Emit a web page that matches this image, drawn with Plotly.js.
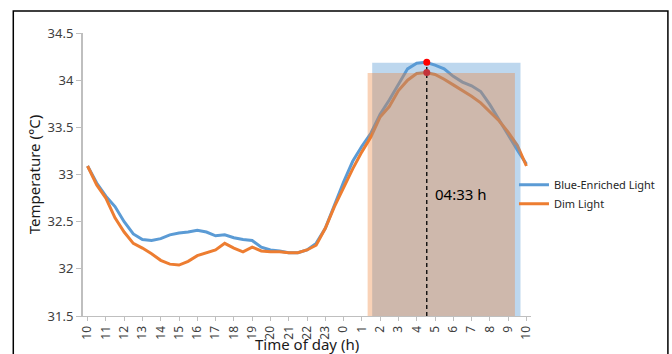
<!DOCTYPE html>
<html>
<head>
<meta charset="utf-8">
<script src="https://cdn.plot.ly/plotly-3.0.1.min.js"></script>
<style>html,body{margin:0;padding:0;background:#fff;}#chart{width:672px;height:354px;}</style>
</head>
<body>
<div id="chart"></div>
<script>
// Half-hour samples from 10:00 to 10:00 next day
const timeLabels = ['10','11','12','13','14','15','16','17','18','19','20','21','22','23','0','1','2','3','4','5','6','7','8','9','10'];
const blueEnriched = [33.09,32.91,32.77,32.66,32.50,32.37,32.31,32.30,32.32,32.36,32.38,32.39,32.41,
  32.39,32.35,32.36,32.33,32.31,32.30,32.23,32.20,32.19,32.17,32.17,32.20,32.27,32.43,32.68,32.92,
  33.14,33.30,33.44,33.64,33.79,33.96,34.12,34.18,34.19,34.16,34.12,34.04,33.98,33.94,33.88,33.74,
  33.58,33.41,33.26,33.11];
const dimLight = [33.09,32.89,32.75,32.54,32.39,32.27,32.22,32.16,32.09,32.05,32.04,32.08,32.14,
  32.17,32.20,32.27,32.22,32.18,32.23,32.19,32.18,32.18,32.17,32.17,32.20,32.25,32.43,32.66,32.86,
  33.06,33.24,33.40,33.61,33.72,33.89,34.00,34.07,34.08,34.06,34.01,33.95,33.89,33.83,33.76,33.67,
  33.57,33.45,33.31,33.09];
const seriesNames = ['Blue-Enriched Light', 'Dim Light'];
const xTitle = 'Time of day (h)';
const yTitle = 'Temperature (°C)';
const peakTime = 37.1;            // 04:33 h, in half-hour index units
const peakLabel = '04:33 h';
const peakValues = [34.19, 34.08];
const bandStart = [31.13, 30.63];
const bandEnd = [47.35, 46.74];
const bandTop = [34.185, 34.075];

const idx = blueEnriched.map((_, i) => i);
const tickVals = timeLabels.map((_, i) => i * 2);

const FONT = 'Noto Sans, Open Sans, sans-serif';
const BLUE = '#5b9bd5', ORANGE = '#ed7d31';

const traces = [
  {x: idx, y: blueEnriched, name: seriesNames[0], type: 'scatter', mode: 'lines',
   line: {color: BLUE, width: 3}},
  {x: idx, y: dimLight, name: seriesNames[1], type: 'scatter', mode: 'lines',
   line: {color: ORANGE, width: 3}}
];

const shapes = [
  // outer chart border
  {type: 'rect', xref: 'paper', yref: 'paper', x0: -0.1556, x1: 1.3056, y0: -0.3, y1: 1.0777,
   line: {color: '#000', width: 1.5}, fillcolor: 'rgba(0,0,0,0)', layer: 'above'},
  // bands
  {type: 'rect', xref: 'x', yref: 'y', x0: bandStart[0], x1: bandEnd[0], y0: 31.5, y1: bandTop[0],
   fillcolor: 'rgba(91,155,213,0.4)', line: {width: 0}, layer: 'above'},
  {type: 'rect', xref: 'x', yref: 'y', x0: bandStart[1], x1: bandEnd[1], y0: 31.5, y1: bandTop[1],
   fillcolor: 'rgba(237,125,49,0.35)', line: {width: 0}, layer: 'above'},
  // dashed marker line
  {type: 'line', xref: 'x', yref: 'y', x0: peakTime, x1: peakTime, y0: 31.5, y1: peakValues[0],
   line: {color: '#000', width: 1.3, dash: '4px,3px'}, layer: 'above'},
  // peak dots
  {type: 'circle', xref: 'x', yref: 'y', xsizemode: 'pixel', ysizemode: 'pixel',
   xanchor: peakTime, yanchor: peakValues[0], x0: -3.5, x1: 3.5, y0: -3.5, y1: 3.5,
   fillcolor: '#ff0000', line: {width: 0}, layer: 'above'},
  {type: 'circle', xref: 'x', yref: 'y', xsizemode: 'pixel', ysizemode: 'pixel',
   xanchor: peakTime, yanchor: peakValues[1], x0: -3.5, x1: 3.5, y0: -3.5, y1: 3.5,
   fillcolor: '#c4333b', line: {width: 0}, layer: 'above'}
];

const layout = {
  width: 672, height: 354,
  margin: {l: 83, r: 139, t: 33, b: 38, pad: 0},
  paper_bgcolor: '#fff', plot_bgcolor: '#fff',
  font: {family: FONT, color: '#404040', size: 12},
  showlegend: true,
  legend: {x: 0.962, xanchor: 'left', y: 0.515, yanchor: 'top', bgcolor: 'rgba(0,0,0,0)',
           font: {family: FONT, size: 11, color: '#262626'}, tracegroupgap: 0, itemwidth: 30},
  xaxis: {
    range: [-0.5, 48.5], tickmode: 'array', tickvals: tickVals, ticktext: timeLabels,
    tickangle: -90, ticks: 'outside', ticklen: 4, tickcolor: '#bfbfbf', tickwidth: 1,
    showline: true, linecolor: '#bfbfbf', linewidth: 1.2, showgrid: false, zeroline: false,
    tickfont: {family: FONT, size: 12, color: '#404040'}
  },
  yaxis: {
    range: [31.5, 34.5], dtick: 0.5, tick0: 31.5, ticks: 'outside', ticklen: 5,
    tickcolor: '#bfbfbf', tickwidth: 1, showline: true, linecolor: '#bfbfbf', linewidth: 2,
    showgrid: false, zeroline: false,
    tickfont: {family: FONT, size: 13, color: '#404040'},
    title: {text: yTitle, font: {family: FONT, size: 15, color: '#1a1a1a'}, standoff: 3}
  },
  shapes: shapes,
  annotations: [
    {x: peakTime, y: 32.79, xref: 'x', yref: 'y', text: peakLabel, showarrow: false,
     xanchor: 'left', yanchor: 'middle', xshift: 6,
     font: {family: FONT, size: 15, color: '#000'}},
    // x-axis title, placed just above the bottom edge
    {x: 0.5, y: 0, yshift: -17, xref: 'paper', yref: 'paper', text: xTitle, showarrow: false,
     xanchor: 'center', yanchor: 'top', borderpad: 0, font: {family: FONT, size: 15, color: '#1a1a1a'}}
  ]
};

Plotly.newPlot('chart', traces, layout, {displayModeBar: false, staticPlot: true});
</script>
</body>
</html>
